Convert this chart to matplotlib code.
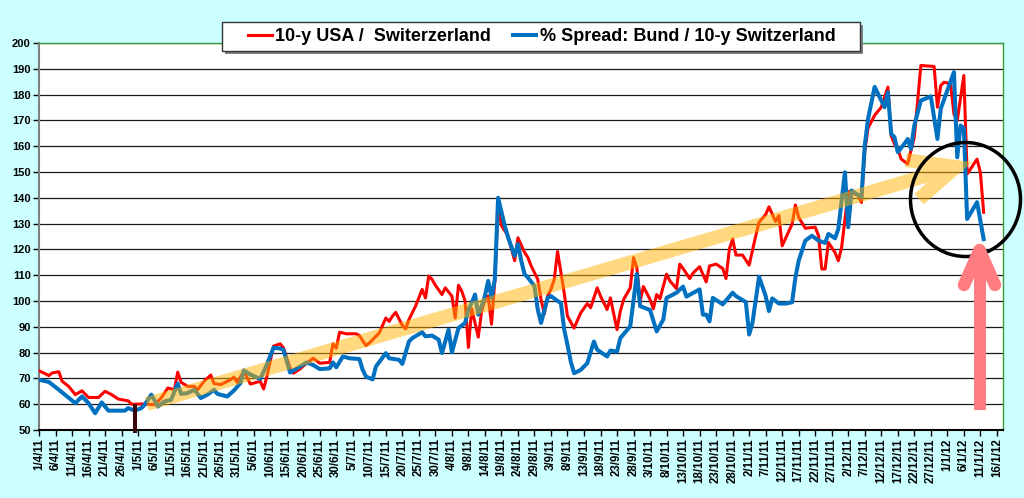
import datetime as dt
import matplotlib
matplotlib.use("Agg")
import matplotlib.pyplot as plt
from matplotlib.lines import Line2D
from matplotlib.patches import Ellipse, Rectangle

plt.rcParams["font.family"] = ["Liberation Sans", "DejaVu Sans"]

START = dt.date(2011, 4, 1)
LAST_TICK_DAY = 290          # 16/1/12

# ── data: day offset from 1/4/11, spread in bp ─────────────────────────────
usa_days = [0, 3, 4, 6, 7, 9, 11, 13, 15, 18, 20, 22, 24, 27, 28, 32, 35, 37, 39, 41,
            42, 43, 45, 47, 48, 50, 52, 53, 55, 58, 59, 60, 62, 64, 67, 68, 69, 71, 73, 74,
            76, 77, 79, 81, 83, 85, 88, 89, 90, 91, 93, 96, 97, 99, 100, 102, 103, 105, 106, 107,
            108, 110, 111, 112, 114, 116, 117, 118, 119, 120, 122, 123, 125, 126, 127, 128, 129, 130, 131, 133,
            134, 135, 136, 137, 138, 139, 140, 142, 144, 145, 147, 148, 149, 151, 152, 153, 154, 155, 156, 157,
            159, 160, 162, 164, 166, 167, 169, 170, 172, 173, 175, 176, 177, 179, 180, 181, 182, 183, 185, 186,
            187, 188, 190, 191, 193, 194, 195, 197, 198, 200, 202, 203, 205, 207, 208, 209, 210, 211, 213, 215,
            217, 218, 220, 221, 223, 224, 225, 228, 229, 230, 232, 235, 236, 237, 238, 239, 241, 242, 243, 245,
            246, 248, 249, 250, 251, 253, 255, 257, 258, 259, 260, 261, 263, 264, 265, 267, 271, 272, 273, 274,
            276, 277, 278, 280, 281, 284, 285, 286]
usa_vals = [73.0, 71.1, 72.1, 72.6, 68.9, 66.9, 63.7, 65.2, 62.6, 62.6, 65.0, 63.7, 62.0, 61.3, 60.0, 60.1, 59.8, 62.4, 66.3, 65.6,
            72.4, 68.5, 66.9, 66.9, 65.6, 68.9, 71.3, 68.0, 67.6, 69.5, 70.5, 68.5, 72.8, 67.8, 68.9, 65.9, 70.8, 82.5, 83.4, 81.9,
            74.0, 72.0, 73.6, 75.9, 77.8, 75.9, 76.2, 83.4, 81.7, 87.9, 87.3, 87.3, 86.6, 82.7, 83.7, 86.3, 87.6, 93.4, 92.1, 94.1,
            95.6, 90.5, 89.2, 92.8, 98.0, 104.5, 101.2, 109.7, 108.4, 106.1, 102.5, 105.1, 101.9, 93.4, 106.1, 103.8, 100.0, 82.0, 97.0, 86.0,
            96.0, 100.6, 101.9, 91.0, 108.0, 137.0, 129.2, 125.3, 115.6, 124.5, 118.8, 116.9, 113.6, 108.4, 100.6, 95.0, 102.0, 104.5, 108.4, 119.2,
            103.2, 94.1, 89.5, 95.4, 99.0, 97.4, 105.1, 101.9, 96.7, 101.2, 88.9, 96.1, 100.6, 105.1, 116.8, 113.0, 100.0, 105.6, 100.6, 97.0,
            102.5, 100.9, 110.4, 107.8, 104.8, 114.3, 112.6, 108.7, 110.8, 113.3, 107.4, 113.6, 114.3, 112.6, 108.7, 120.1, 124.0, 117.8, 117.8, 113.9,
            125.3, 130.5, 133.5, 136.5, 130.8, 133.1, 121.4, 129.8, 137.2, 132.4, 128.2, 128.6, 125.3, 112.4, 112.4, 122.7, 118.8, 115.6, 120.8, 142.4,
            142.1, 140.8, 138.2, 158.0, 167.0, 172.0, 175.1, 182.9, 164.1, 160.9, 159.0, 155.1, 153.1, 158.3, 163.5, 191.3, 190.9, 175.1, 183.5, 184.8,
            184.2, 172.5, 169.9, 187.4, 149.2, 155.0, 149.9, 134.4]

bund_days = [0, 3, 6, 8, 11, 13, 15, 17, 19, 21, 26, 27, 29, 31, 32, 34, 36, 38, 40, 42,
             43, 45, 47, 49, 51, 53, 54, 57, 59, 61, 62, 64, 67, 69, 71, 73, 74, 76, 79, 81,
             83, 85, 88, 89, 90, 92, 94, 97, 98, 99, 101, 102, 105, 106, 109, 110, 112, 113, 116, 117,
             119, 121, 122, 124, 125, 127, 129, 130, 131, 132, 133, 134, 135, 136, 137, 138, 139, 141, 142, 144,
             145, 146, 147, 148, 150, 151, 152, 154, 155, 157, 158, 159, 160, 161, 162, 164, 166, 168, 169, 172,
             173, 175, 176, 179, 181, 182, 185, 187, 189, 190, 193, 195, 196, 200, 201, 202, 203, 204, 207, 210,
             211, 214, 215, 216, 218, 220, 221, 222, 224, 226, 228, 229, 230, 232, 234, 236, 238, 239, 241, 242,
             244, 245, 246, 249, 250, 251, 253, 255, 256, 257, 258, 259, 260, 262, 263, 264, 265, 267, 270, 272,
             273, 277, 278, 279, 280, 281, 284, 286]
bund_vals = [69.5, 68.6, 65.6, 63.5, 60.4, 63.0, 60.4, 56.5, 60.7, 57.5, 57.5, 58.5, 57.5, 58.5, 59.8, 63.7, 59.1, 61.1, 61.7, 68.0,
             64.0, 64.3, 65.6, 62.4, 63.7, 65.6, 64.0, 63.0, 65.3, 68.2, 73.1, 71.5, 69.8, 75.4, 81.9, 81.6, 81.1, 72.3, 74.6, 76.2,
             75.2, 73.6, 73.9, 76.2, 74.3, 78.5, 77.8, 77.5, 73.3, 70.7, 69.6, 74.6, 79.8, 77.8, 77.2, 75.6, 84.3, 85.6, 87.9, 86.3,
             86.6, 85.0, 79.8, 88.9, 80.1, 89.5, 91.5, 96.7, 99.3, 102.5, 94.7, 98.0, 101.9, 107.8, 101.2, 108.4, 140.0, 129.2, 124.7, 117.5,
             122.1, 115.6, 110.4, 109.1, 105.8, 96.7, 91.5, 101.2, 101.9, 100.0, 99.3, 89.0, 83.0, 76.5, 72.0, 73.3, 75.9, 84.3, 81.1, 78.5,
             80.8, 80.4, 85.6, 90.2, 110.4, 98.0, 96.5, 88.2, 92.8, 101.2, 103.2, 105.6, 101.7, 104.5, 94.7, 94.7, 92.1, 101.2, 98.7, 103.2,
             101.9, 99.6, 87.0, 91.5, 109.4, 101.9, 96.1, 101.0, 99.0, 99.0, 99.5, 109.1, 115.6, 123.4, 125.3, 123.4, 122.5, 126.0, 124.3, 127.9,
             149.9, 128.6, 142.8, 140.2, 160.2, 170.6, 183.0, 177.7, 175.1, 180.9, 164.8, 163.5, 157.7, 160.9, 162.8, 158.9, 168.0, 177.7, 179.3, 162.8,
             174.5, 188.7, 155.7, 168.0, 167.0, 131.8, 138.3, 124.0]

marker_day = 29              # dark vertical marker at 30/4/11
y_ticks = list(range(50, 201, 10))

W, H = 1024, 498


def px(x, y):
    """figure pixel -> figure fraction"""
    return x / W, 1 - y / H


fig = plt.figure(figsize=(W / 100, H / 100), dpi=100, facecolor="#CCFFFF")
ax = fig.add_axes([39 / W, 1 - 430 / H, (1003 - 39) / W, (430 - 43) / H])
ax.set_facecolor("white")

ax.plot(usa_days, usa_vals, color="#FF0000", lw=2.2, label="10-y USA /  Switerzerland", zorder=3)
ax.plot(bund_days, bund_vals, color="#0070C0", lw=2.9,
        label="% Spread: Bund / 10-y Switzerland", zorder=4)
ax.plot([marker_day, marker_day], [60, 48.7], color="#3A0808", lw=2.9,
        clip_on=False, zorder=5, solid_capstyle="butt")

ax.set_ylim(50, 200)
ax.set_xlim(0, (1003 - 39) / 3.303)
ax.set_yticks(y_ticks)
ax.yaxis.grid(True, color="#1a1a1a", lw=0.9)
ax.set_axisbelow(True)

tick_days = list(range(0, LAST_TICK_DAY + 1, 5))
tick_labels = []
for d in tick_days:
    t = START + dt.timedelta(days=d)
    tick_labels.append(f"{t.day}/{t.month}/{t.year % 100}")
ax.set_xticks(tick_days)
ax.set_xticklabels(tick_labels, rotation=90, fontsize=8.3, fontweight="bold")
for lab in ax.get_yticklabels():
    lab.set_fontweight("bold")
    lab.set_fontsize(8)
ax.tick_params(axis="both", direction="out", length=4, width=1, color="black", pad=2)

for side in ("top", "right"):
    ax.spines[side].set_color("#3C9C3C")
    ax.spines[side].set_linewidth(1)
ax.spines["left"].set_color("#7F7F7F")
ax.spines["left"].set_linewidth(1.5)
ax.spines["bottom"].set_color("black")
ax.spines["bottom"].set_linewidth(1.5)

# legend box drawn by hand (wider padding than matplotlib's frame)
lx0, ly0 = px(222, 51)
lx1, ly1 = px(860, 22)
ax.add_patch(Rectangle(px(225, 54), lx1 - lx0, ly1 - ly0, facecolor="#808080",
                       edgecolor="none", transform=fig.transFigure, clip_on=False, zorder=8))
ax.add_patch(Rectangle((lx0, ly0), lx1 - lx0, ly1 - ly0, facecolor="white",
                       edgecolor="#333333", lw=1, transform=fig.transFigure, clip_on=False,
                       zorder=8.5))
leg = ax.legend(loc="center", bbox_to_anchor=px(542, 36.5), bbox_transform=fig.transFigure,
                ncol=2, frameon=False, handlelength=1.3,
                handletextpad=0.2, columnspacing=1.2, borderpad=0.3,
                prop={"weight": "bold", "size": 13})
leg.set_zorder(10)

# ── annotations: yellow trend arrow, circle, pink arrow ─────────────────────
yx = [px(147, 404), px(956, 167), (float("nan"), float("nan")),
      px(906, 160), px(956, 167), px(919, 199)]
fig.add_artist(Line2D([p[0] for p in yx], [p[1] for p in yx], color="#FFB300", alpha=0.5,
                      lw=10, solid_capstyle="butt", solid_joinstyle="miter", zorder=6))

cx, cy = px(965.5, 199.5)
fig.add_artist(Ellipse((cx, cy), 110 / W, 114 / H, fill=False, edgecolor="black",
                       lw=2.5, zorder=7))

fig.add_artist(Line2D([px(979.5, 410)[0], px(979.5, 252)[0]],
                      [px(979.5, 410)[1], px(979.5, 252)[1]],
                      color="#FF7C80", lw=8.6, solid_capstyle="butt", zorder=8))
pa = [px(964, 285), px(979.5, 250), px(995, 285)]
fig.add_artist(Line2D([p[0] for p in pa], [p[1] for p in pa], color="#FF7C80", lw=9,
                      solid_capstyle="round", solid_joinstyle="round", zorder=8))

fig.savefig("out.png", dpi=100, facecolor=fig.get_facecolor())
